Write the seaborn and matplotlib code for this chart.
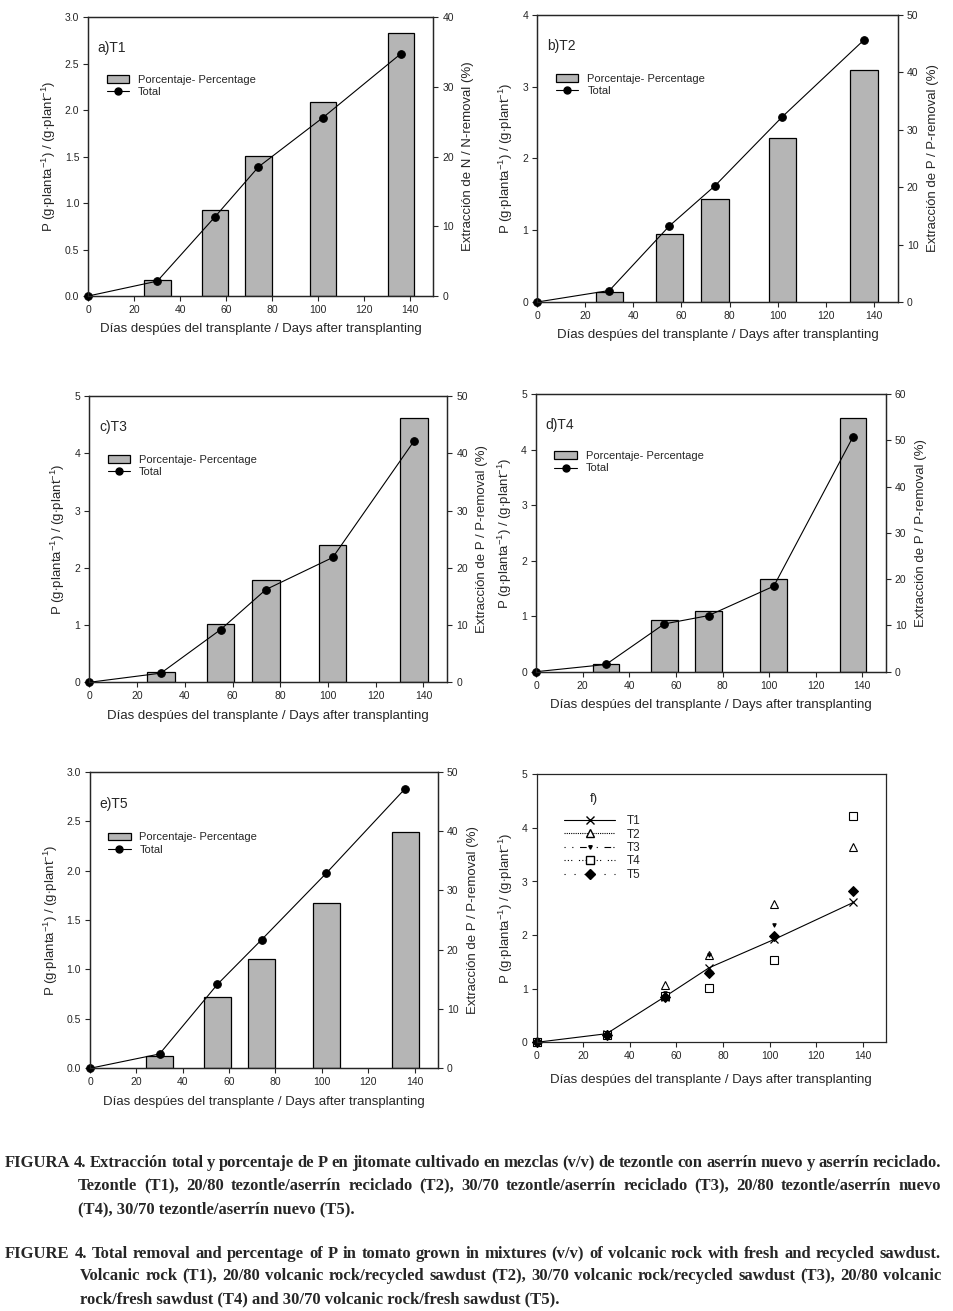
import numpy as np
import pandas as pd
import matplotlib
matplotlib.use("Agg")
import matplotlib.pyplot as plt
import seaborn as sns
from matplotlib.patches import Patch
from matplotlib.lines import Line2D

# days after transplanting
days_line = [0, 30, 55, 74, 102, 136]
days_bar = [30, 55, 74, 102, 136]

# total P (g/plant), left axis
total_t1 = [0, 0.16, 0.85, 1.39, 1.92, 2.61]
total_t2 = [0, 0.16, 1.06, 1.62, 2.58, 3.65]
total_t3 = [0, 0.16, 0.92, 1.62, 2.18, 4.21]
total_t4 = [0, 0.13, 0.86, 1.01, 1.54, 4.23]
total_t5 = [0, 0.145, 0.85, 1.30, 1.975, 2.83]

# percentage removal (%), right axis
pct_t1 = [2.25, 12.3, 20.1, 27.8, 37.7]
pct_t2 = [1.7, 11.8, 17.9, 28.5, 40.3]
pct_t3 = [1.75, 10.1, 17.8, 23.9, 46.1]
pct_t4 = [1.6, 11.1, 13.1, 20.0, 54.8]
pct_t5 = [2.0, 12.0, 18.4, 27.8, 39.9]

panel_names = ["a)T1", "b)T2", "c)T3", "d)T4", "e)T5"]
right_labels = ["Extracción de N / N-removal (%)"] + ["Extracción de P / P-removal (%)"] * 4
left_lims = [3.0, 4, 5, 5, 3.0]
left_steps = [0.5, 1, 1, 1, 0.5]
right_lims = [40, 50, 50, 60, 50]

caption_lines = [
    "FIGURA 4. Extracción total y porcentaje de P en jitomate cultivado en mezclas (v/v) de tezontle con aserrín nuevo y aserrín reciclado.",
    "Tezontle (T1), 20/80 tezontle/aserrín reciclado (T2), 30/70 tezontle/aserrín reciclado (T3), 20/80 tezontle/aserrín nuevo",
    "(T4), 30/70 tezontle/aserrín nuevo (T5).",
    "FIGURE 4. Total removal and percentage of P in tomato grown in mixtures (v/v) of volcanic rock with fresh and recycled sawdust.",
    "Volcanic rock (T1), 20/80 volcanic rock/recycled sawdust (T2), 30/70 volcanic rock/recycled sawdust (T3), 20/80 volcanic",
    "rock/fresh sawdust (T4) and 30/70 volcanic rock/fresh sawdust (T5).",
]
caption_justify = [True, True, False, True, True, False]

sns.set_theme(style="ticks")
plt.rcParams["font.family"] = ["Liberation Sans", "DejaVu Sans"]
plt.rcParams["mathtext.fontset"] = "custom"
plt.rcParams["mathtext.rm"] = "Liberation Sans"
plt.rcParams["mathtext.it"] = "Liberation Sans:italic"
plt.rcParams["axes.linewidth"] = 0.9
plt.rcParams["xtick.major.width"] = 0.8
plt.rcParams["ytick.major.width"] = 0.8
plt.rcParams["xtick.major.size"] = 3.5
plt.rcParams["ytick.major.size"] = 3.5

W, H = 954, 1311
fig = plt.figure(figsize=(W / 100, H / 100), dpi=100)

def box(left, right, top, bottom):
    return [left / W, 1 - bottom / H, (right - left) / W, (bottom - top) / H]

boxes = [
    box(88.3, 433.3, 17.3, 296),
    box(537.3, 897.7, 14.7, 302),
    box(89.3, 447.3, 396, 682.3),
    box(536, 885.7, 394, 671.7),
    box(90, 437.7, 771.7, 1068.3),
]
box_f = box(536.7, 886, 774.3, 1042.3)

ylabel_left = r"P (g$\cdot$planta$^{-1}$) / (g$\cdot$plant$^{-1}$)"
xlabel = "Días despúes del transplante / Days after transplanting"
bar_color = "#b5b5b5"

totals = [total_t1, total_t2, total_t3, total_t4, total_t5]
pcts = [pct_t1, pct_t2, pct_t3, pct_t4, pct_t5]

min_gap = np.min(np.diff(days_bar))
bar_w = 11.5 / min_gap

for i in range(5):
    ax = fig.add_axes(boxes[i])
    # bars on host axis (drawn under the line), shown on the right side
    sns.barplot(x=days_bar, y=pcts[i], native_scale=True, width=bar_w, ax=ax,
                color=bar_color, saturation=1, edgecolor="black", linewidth=0.9,
                errorbar=None)
    ax2 = ax.twinx()
    ax.yaxis.tick_right()
    ax.yaxis.set_label_position("right")
    ax2.yaxis.tick_left()
    ax2.yaxis.set_label_position("left")

    ax.set_ylim(0, right_lims[i])
    ax.set_yticks(np.arange(0, right_lims[i] + 1, 10))
    ax.set_ylabel(right_labels[i], fontsize=9.5, labelpad=6)

    sns.lineplot(x=days_line, y=totals[i], ax=ax2, color="black", linewidth=0.8,
                 marker="o", markersize=5.5, markeredgecolor="black", clip_on=False)
    ax2.set_ylim(0, left_lims[i])
    ticks = np.arange(0, left_lims[i] + 0.001, left_steps[i])
    ax2.set_yticks(ticks)
    if left_steps[i] < 1:
        ax2.set_yticklabels([f"{t:.1f}" for t in ticks])
    else:
        ax2.set_yticklabels([f"{int(t)}" for t in ticks])
    ax2.set_ylabel(ylabel_left, fontsize=9.5, labelpad=5)

    ax.set_xlim(0, 150)
    ax.set_xticks(range(0, 141, 20))
    ax.set_xticklabels([str(v) for v in range(0, 141, 20)])
    ax.set_xlabel(xlabel, fontsize=9.5, labelpad=6)
    for a in (ax, ax2):
        a.tick_params(labelsize=7.5, direction="out", pad=3)

    ax2.text(0.027, 0.89, panel_names[i], transform=ax2.transAxes, fontsize=10,
             va="center", ha="left")
    handles = [Patch(facecolor=bar_color, edgecolor="black", linewidth=0.9),
               Line2D([], [], color="black", lw=0.8, marker="o", markersize=5)]
    ax2.legend(handles, ["Porcentaje- Percentage", "Total"], loc="upper left",
               bbox_to_anchor=(0.04, 0.81), frameon=False, fontsize=8,
               handlelength=2.0, handletextpad=0.8, labelspacing=0.2,
               borderaxespad=0)

# panel f: all treatments
axf = fig.add_axes(box_f)
mk = dict(color="black", markeredgecolor="black", clip_on=False)
sns.lineplot(x=days_line, y=total_t1, ax=axf, linewidth=0.8, marker="x",
             markersize=5.5, markeredgewidth=0.9, **mk)
sns.lineplot(x=days_line, y=total_t2, ax=axf, linestyle="", marker="^",
             markersize=6, markerfacecolor="white", markeredgewidth=0.8, **mk)
sns.lineplot(x=days_line, y=total_t3, ax=axf, linestyle="", marker="v",
             markersize=2.5, **mk)
sns.lineplot(x=days_line, y=total_t4, ax=axf, linestyle="", marker="s",
             markersize=6, markerfacecolor="white", markeredgewidth=0.8, **mk)
sns.lineplot(x=days_line, y=total_t5, ax=axf, linestyle="", marker="D",
             markersize=5, **mk)
axf.set_xlim(0, 150)
axf.set_ylim(0, 5)
axf.set_xticks(range(0, 141, 20))
axf.set_yticks(range(0, 6))
axf.set_xlabel(xlabel, fontsize=9.5, labelpad=9)
axf.set_ylabel(ylabel_left, fontsize=9.5, labelpad=5)
axf.tick_params(labelsize=7.5, direction="out", pad=3)
axf.text(0.153, 0.906, "f)", transform=axf.transAxes, fontsize=9.5,
         va="center", ha="left")
f_handles = [
    Line2D([], [], color="black", lw=0.8, marker="x", markersize=5.5),
    Line2D([], [], color="black", lw=0.8, ls=(0, (1, 1)), marker="^", markersize=6,
           markerfacecolor="white"),
    Line2D([], [], color="black", lw=0.8, ls=(0, (1, 6, 1, 6, 6, 2)), marker="v",
           markersize=2.5),
    Line2D([], [], color="black", lw=0.8, ls=(0, (1, 2, 1, 2, 1, 6)), marker="s",
           markersize=6, markerfacecolor="white"),
    Line2D([], [], color="black", lw=0.8, ls=(0, (1, 8)), marker="D", markersize=5),
]
axf.legend(f_handles, ["T1", "T2", "T3", "T4", "T5"], loc="upper left",
           bbox_to_anchor=(0.065, 0.865), frameon=False, fontsize=8.5,
           handlelength=4.3, handletextpad=1.0, labelspacing=0.12, borderaxespad=0)

# captions, justified lines laid out word by word
renderer = fig.canvas.get_renderer()
cap_x = [5, 78, 78, 5, 80, 80]
cap_y = [1163, 1186, 1209, 1254, 1276, 1299]
cap_right = 941
cap_kw = dict(fontsize=12.0, family="Liberation Serif", fontweight="bold",
              va="center", ha="left")
for txt, x, y, just in zip(caption_lines, cap_x, cap_y, caption_justify):
    if not just:
        fig.text(x / W, 1 - y / H, txt, **cap_kw)
        continue
    words = txt.split(" ")
    objs = [fig.text(0, 1 - y / H, w, **cap_kw) for w in words]
    widths = [o.get_window_extent(renderer).width for o in objs]
    gap = (cap_right - x - sum(widths)) / (len(words) - 1)
    pos = x
    for o, wd in zip(objs, widths):
        o.set_x(pos / W)
        pos += wd + gap

fig.savefig("out.png", dpi=100, facecolor="white")
